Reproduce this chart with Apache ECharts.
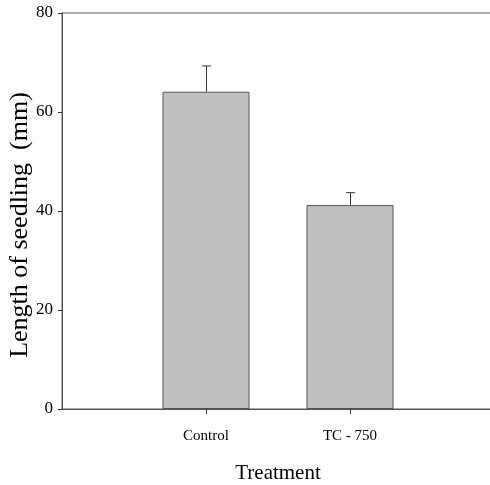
<!DOCTYPE html>
<html lang="en">
<head>
    <meta charset="UTF-8">
    <title>Seedling length</title>
</head>
<body style="margin:0">
<div id="chart" style="width:490px;height:485px;"></div>
<script src="https://cdn.jsdelivr.net/npm/echarts@6/dist/echarts.min.js"></script>
<script type="text/javascript">
    // categories (empty ends give the padding on each side)
    var categories = ['', 'Control', 'TC - 750', ''];
    var lengths = [null, 64.1, 41.2, null];
    var errors = [null, 5.2, 2.5, null];
    var yTicks = [0, 20, 40, 60, 80];

    var serif = '"Liberation Serif", "DejaVu Serif", serif';
    var chart = echarts.init(document.getElementById('chart'));

    var errData = [];
    for (var i = 0; i < categories.length; i++) {
        if (lengths[i] != null) errData.push([i, lengths[i], lengths[i] + errors[i]]);
    }

    var option = {
        animation: false,
        grid: {
            left: 62, top: 13, right: -4, bottom: 76,
            outerBoundsMode: 'none',
            containLabel: false,
            show: true, borderColor: '#555', borderWidth: 1
        },
        xAxis: {
            type: 'category',
            data: categories,
            boundaryGap: false,
            name: 'Treatment',
            nameLocation: 'middle',
            nameGap: 54,
            nameMoveOverlap: false,
            nameTextStyle: {fontFamily: serif, fontSize: 21, color: '#000'},
            axisLine: {lineStyle: {color: '#555', width: 1}},
            axisTick: {
                length: 5,
                lineStyle: {color: '#333'},
                interval: function (idx, val) { return val !== ''; }
            },
            axisLabel: {
                margin: 20,
                fontFamily: serif, fontSize: 15, color: '#000',
                interval: function (idx, val) { return val !== ''; }
            },
            splitLine: {show: false}
        },
        yAxis: {
            type: 'value',
            min: yTicks[0],
            max: yTicks[yTicks.length - 1],
            interval: 20,
            name: 'Length of seedling  (mm)',
            nameLocation: 'middle',
            nameGap: 29,
            nameMoveOverlap: false,
            nameTextStyle: {fontFamily: serif, fontSize: 26, color: '#000', padding: [0, 28, 0, 0]},
            axisLine: {show: true, lineStyle: {color: '#555', width: 1}},
            axisTick: {show: true, length: 4, lineStyle: {color: '#333'}},
            axisLabel: {margin: 9, fontFamily: serif, fontSize: 17, color: '#000'},
            splitLine: {show: false}
        },
        series: [
            {
                type: 'bar',
                data: lengths,
                barWidth: 87,
                itemStyle: {color: '#c0c0c0', borderColor: '#555', borderWidth: 1}
            },
            {
                type: 'custom',
                data: errData,
                z: 1,
                renderItem: function (params, api) {
                    var base = api.coord([api.value(0), api.value(1)]);
                    var top = api.coord([api.value(0), api.value(2)]);
                    var x = Math.round(base[0]) + 0.5;
                    return {
                        type: 'group',
                        children: [
                            {type: 'line', shape: {x1: x, y1: base[1], x2: x, y2: top[1]},
                                style: {stroke: '#333', lineWidth: 1}},
                            {type: 'line', shape: {x1: x - 4.5, y1: top[1], x2: x + 4.5, y2: top[1]},
                                style: {stroke: '#333', lineWidth: 1}}
                        ]
                    };
                }
            }
        ]
    };
    chart.setOption(option);
</script>
</body>
</html>
